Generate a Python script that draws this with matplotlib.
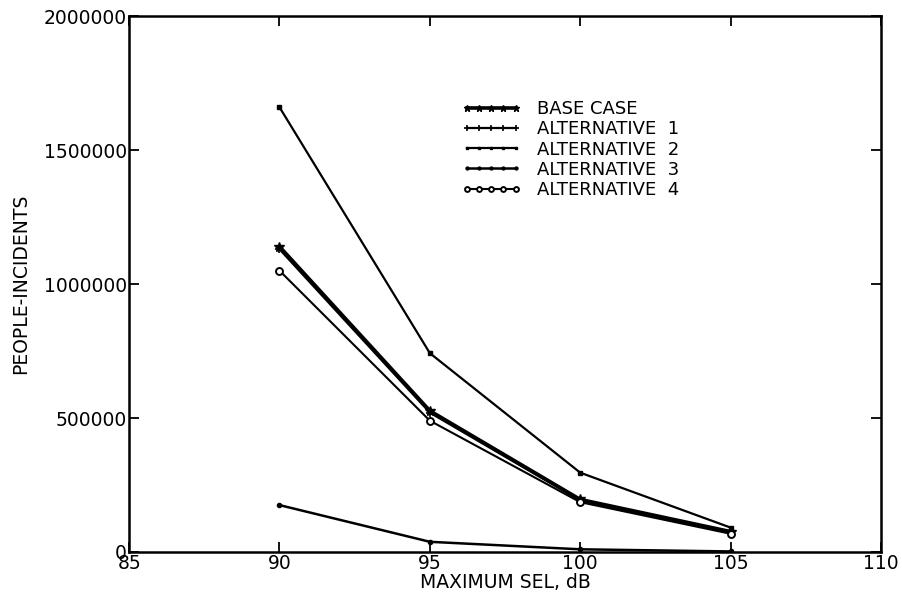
import numpy as np
import matplotlib
matplotlib.use("Agg")
import matplotlib.pyplot as plt

# maximum SEL, dB
sel = [90, 95, 100, 105]

base_case = [1140000, 527000, 196000, 76000]
alt_1 = [1130000, 520000, 192000, 74000]
alt_2 = [1660000, 742000, 296000, 91000]
alt_3 = [175000, 38000, 10000, 2000]
alt_4 = [1050000, 490000, 186000, 68000]

x_ticks = [85, 90, 95, 100, 105, 110]
y_ticks = [0, 500000, 1000000, 1500000, 2000000]

plt.rcParams['font.family'] = ['DejaVu Sans']

fig = plt.figure(figsize=(9.03, 5.97), dpi=100)
ax = fig.add_axes([0.143, 0.0754, 0.8326, 0.8976])

ax.plot(sel, base_case, color='black', lw=2.6, marker='*', ms=7, label='BASE CASE')
ax.plot(sel, alt_1, color='black', lw=1.6, marker='+', ms=6, mew=1.2, label='ALTERNATIVE  1')
ax.plot(sel, alt_2, color='black', lw=1.6, marker='s', ms=3, label='ALTERNATIVE  2')
ax.plot(sel, alt_3, color='black', lw=1.8, marker='.', ms=6, label='ALTERNATIVE  3')
ax.plot(sel, alt_4, color='black', lw=1.5, marker='o', ms=5, mfc='white', mew=1.4,
        label='ALTERNATIVE  4')

ax.set_xlim(85, 110)
ax.set_ylim(0, 2000000)
ax.set_xticks(x_ticks)
ax.set_yticks(y_ticks)
ax.set_xticklabels([str(v) for v in x_ticks])
ax.set_yticklabels([str(v) for v in y_ticks])
ax.tick_params(direction='in', length=7, width=1.3, labelsize=13.5, pad=1.5,
               top=True, right=True)
for s in ax.spines.values():
    s.set_linewidth(1.8)

ax.set_xlabel('MAXIMUM SEL, dB', fontsize=13.5, labelpad=0)
ax.set_ylabel('PEOPLE-INCIDENTS', fontsize=13.5, labelpad=10)

leg = ax.legend(loc='upper left', bbox_to_anchor=(0.43, 0.86), frameon=False,
                fontsize=13, handlelength=3.3, handletextpad=0.9, labelspacing=0.12,
                borderpad=0, numpoints=5, markerscale=0.7)

fig.savefig('out.png', dpi=100)
